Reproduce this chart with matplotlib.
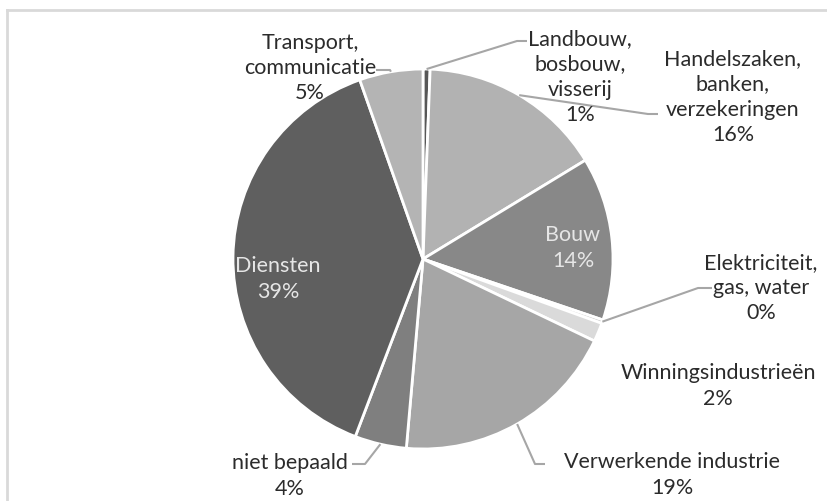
import matplotlib.pyplot as plt
import numpy as np

plt.rcParams["font.family"] = ["Lato", "DejaVu Sans"]

sectors = [
    "Landbouw,\nbosbouw,\nvisserij",
    "Handelszaken,\nbanken,\nverzekeringen",
    "Bouw",
    "Elektriciteit,\ngas, water",
    "Winningsindustrieën",
    "Verwerkende industrie",
    "niet bepaald",
    "Diensten",
    "Transport,\ncommunicatie",
]
shares = [0.6, 15.7, 13.9, 0.3, 1.6, 19.3, 4.4, 38.8, 5.4]
colors = ["#575757", "#b2b2b2", "#888888", "#c8c8c8", "#dadada",
          "#a6a6a6", "#7f7f7f", "#5f5f5f", "#b4b4b4"]

# label centres (px, top-left origin), elbow of leader, and leader end
label_pos = [(580, 77), (733, 97), (573, 248), (761, 288), (718, 386),
             (672, 475), (290, 476), (278, 279), (310, 68)]
leaders = {
    0: [(517, 42), (527, 42)],
    1: [(648, 115), (658, 115)],
    3: [(698, 289), (712, 289)],
    5: [(535, 465), (545, 465)],
    6: [(365, 465), (352, 465)],
    8: [(390, 71), (376, 71)],
}
inside = {2, 7}

W, H = 828, 502
cx, cy, r = 423, 260, 190

fig = plt.figure(figsize=(W / 100, H / 100), dpi=100)
ax = fig.add_axes([0, 0, 1, 1])

wedges, _ = ax.pie(shares, colors=colors, startangle=90, counterclock=False,
                   center=(cx, H - cy), radius=r,
                   wedgeprops=dict(edgecolor="white", linewidth=2))
ax.set_xlim(0, W)
ax.set_ylim(0, H)
ax.set_aspect("equal")
ax.axis("off")

total = sum(shares)
for i, w in enumerate(wedges):
    pct = round(shares[i] / total * 100)
    text = f"{sectors[i]}\n{pct}%"
    x, y = label_pos[i]
    col = "#e6e6e6" if i in inside else "#2b2b2b"
    ax.text(x, H - y, text, ha="center", va="center", fontsize=15.5,
            color=col, linespacing=1.33)
    if i in leaders:
        mid = np.deg2rad((w.theta1 + w.theta2) / 2)
        sx = cx + r * np.cos(mid)
        sy = (H - cy) + r * np.sin(mid)
        pts = [(sx, sy)] + [(px, H - py) for px, py in leaders[i]]
        ax.plot([p[0] for p in pts], [p[1] for p in pts], color="#a6a6a6",
                lw=1.5, solid_capstyle="butt")

# chart frame (top and left edges visible)
ax.plot([7, W], [H - 11, H - 11], color="#d9d9d9", lw=2)
ax.plot([7, 7], [0, H - 11], color="#d9d9d9", lw=2)

fig.savefig("out.png", dpi=100)
